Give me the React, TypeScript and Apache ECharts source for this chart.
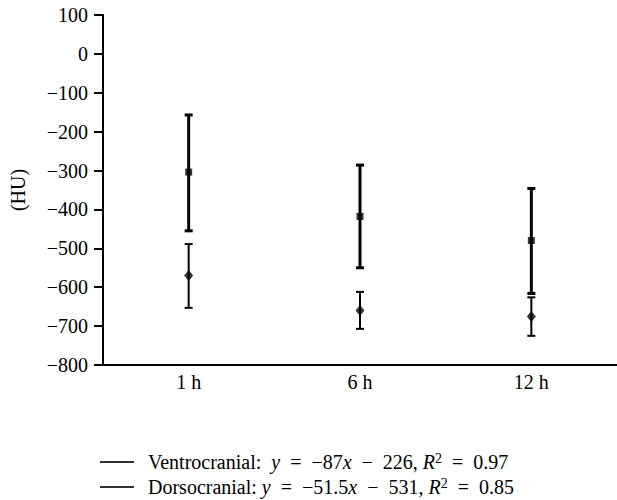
import React, { useEffect, useRef } from "react";
import * as echarts from "echarts";

const categories = ["1 h", "6 h", "12 h"];
const ventroMean = [-304, -418, -480];
const ventroLow = [-455, -550, -616];
const ventroHigh = [-157, -286, -346];
const dorsoMean = [-570, -660, -675];
const dorsoLow = [-653, -707, -725];
const dorsoHigh = [-489, -612, -626];
const yMin = -800;
const yMax = 100;
const yStep = 100;

const FONT = "Liberation Serif, DejaVu Serif, serif";
const INK = "#000";
const FS = 20;

function errorBar(lw: number, halfCap: number) {
  return (params: any, api: any) => {
    const x = api.value(0);
    const lo = api.coord([x, api.value(1)]);
    const hi = api.coord([x, api.value(2)]);
    const style = { stroke: INK, lineWidth: lw };
    return {
      type: "group",
      children: [
        { type: "line", shape: { x1: lo[0], y1: lo[1], x2: hi[0], y2: hi[1] }, style },
        { type: "line", shape: { x1: lo[0] - halfCap, y1: lo[1], x2: lo[0] + halfCap, y2: lo[1] }, style },
        { type: "line", shape: { x1: hi[0] - halfCap, y1: hi[1], x2: hi[0] + halfCap, y2: hi[1] }, style },
      ],
    };
  };
}

const legendLabels: Record<string, string> = {
  Ventrocranial:
    "{g| }{t|Ventrocranial:  }{i|y}{o| = }{t|\u221287}{i|x}{o| \u2212 }{t|226, }{i|R}{s|2}{o| = }{t|0.97}",
  Dorsocranial:
    "{g| }{t|Dorsocranial: }{i|y}{o| = }{t|\u221251.5}{i|x}{o| \u2212 }{t|531, }{i|R}{s|2}{o| = }{t|0.85}",
};

export default function App() {
  const ref = useRef<HTMLDivElement>(null);
  useEffect(() => {
    const chart = echarts.init(ref.current!, null, { renderer: "svg" });
    chart.setOption({
      animation: false,
      backgroundColor: "#fff",
      textStyle: { fontFamily: FONT },
      grid: { left: 97.5, right: -25, top: 15, bottom: 135, containLabel: false },
      xAxis: {
        type: "category",
        data: categories,
        boundaryGap: true,
        axisLine: { show: true, onZero: false, lineStyle: { color: INK, width: 2 } },
        axisTick: { show: false },
        axisLabel: { color: INK, fontFamily: FONT, fontSize: FS, margin: 7 },
        splitLine: { show: false },
      },
      yAxis: {
        type: "value",
        min: yMin,
        max: yMax,
        interval: yStep,
        name: "(HU)",
        nameLocation: "middle",
        nameGap: 75,
        nameTextStyle: { color: INK, fontFamily: FONT, fontSize: FS },
        axisLine: { show: true, lineStyle: { color: INK, width: 2 } },
        axisTick: { show: true, inside: false, length: 9, lineStyle: { color: INK, width: 2 } },
        axisLabel: {
          color: INK,
          fontFamily: FONT,
          fontSize: FS,
          margin: 15,
          formatter: (v: number) => (v < 0 ? "\u2212" + Math.abs(v) : String(v)),
        },
        splitLine: { show: false },
      },
      legend: {
        orient: "vertical",
        left: 100,
        top: 451,
        height: 80,
        padding: 0,
        itemWidth: 34,
        itemHeight: 2,
        itemGap: 3,
        selectedMode: false,
        data: [
          { name: "Ventrocranial", icon: "rect" },
          { name: "Dorsocranial", icon: "rect" },
        ],
        formatter: (name: string) => legendLabels[name] || name,
        textStyle: {
          color: INK,
          fontFamily: FONT,
          fontSize: FS,
          lineHeight: 22,
          rich: {
            g: { width: 9, fontSize: FS },
            t: { color: INK, fontFamily: FONT, fontSize: FS },
            o: { color: INK, fontFamily: FONT, fontSize: FS, padding: [0, 5, 0, 5] },
            i: { color: INK, fontFamily: FONT, fontSize: FS, fontStyle: "italic" },
            s: { color: INK, fontFamily: FONT, fontSize: 14, verticalAlign: "top" },
          },
        },
      },
      series: [
        {
          name: "Ventrocranial SD",
          type: "custom",
          renderItem: errorBar(3, 4),
          data: categories.map((_, i) => [i, ventroLow[i], ventroHigh[i]]),
          encode: { x: 0, y: [1, 2] },
          z: 2,
        },
        {
          name: "Dorsocranial SD",
          type: "custom",
          renderItem: errorBar(2, 4),
          data: categories.map((_, i) => [i, dorsoLow[i], dorsoHigh[i]]),
          encode: { x: 0, y: [1, 2] },
          z: 2,
        },
        {
          name: "Ventrocranial",
          type: "scatter",
          symbol: "rect",
          symbolSize: 7,
          itemStyle: { color: INK },
          data: ventroMean,
          z: 3,
        },
        {
          name: "Dorsocranial",
          type: "scatter",
          symbol: "diamond",
          symbolSize: [9, 11],
          itemStyle: { color: INK },
          data: dorsoMean,
          z: 3,
        },
      ],
    });
    return () => chart.dispose();
  }, []);
  return (
    <div
      ref={ref}
      style={{ position: "absolute", left: 0, top: 0, width: 617, height: 500, background: "#fff" }}
    />
  );
}
